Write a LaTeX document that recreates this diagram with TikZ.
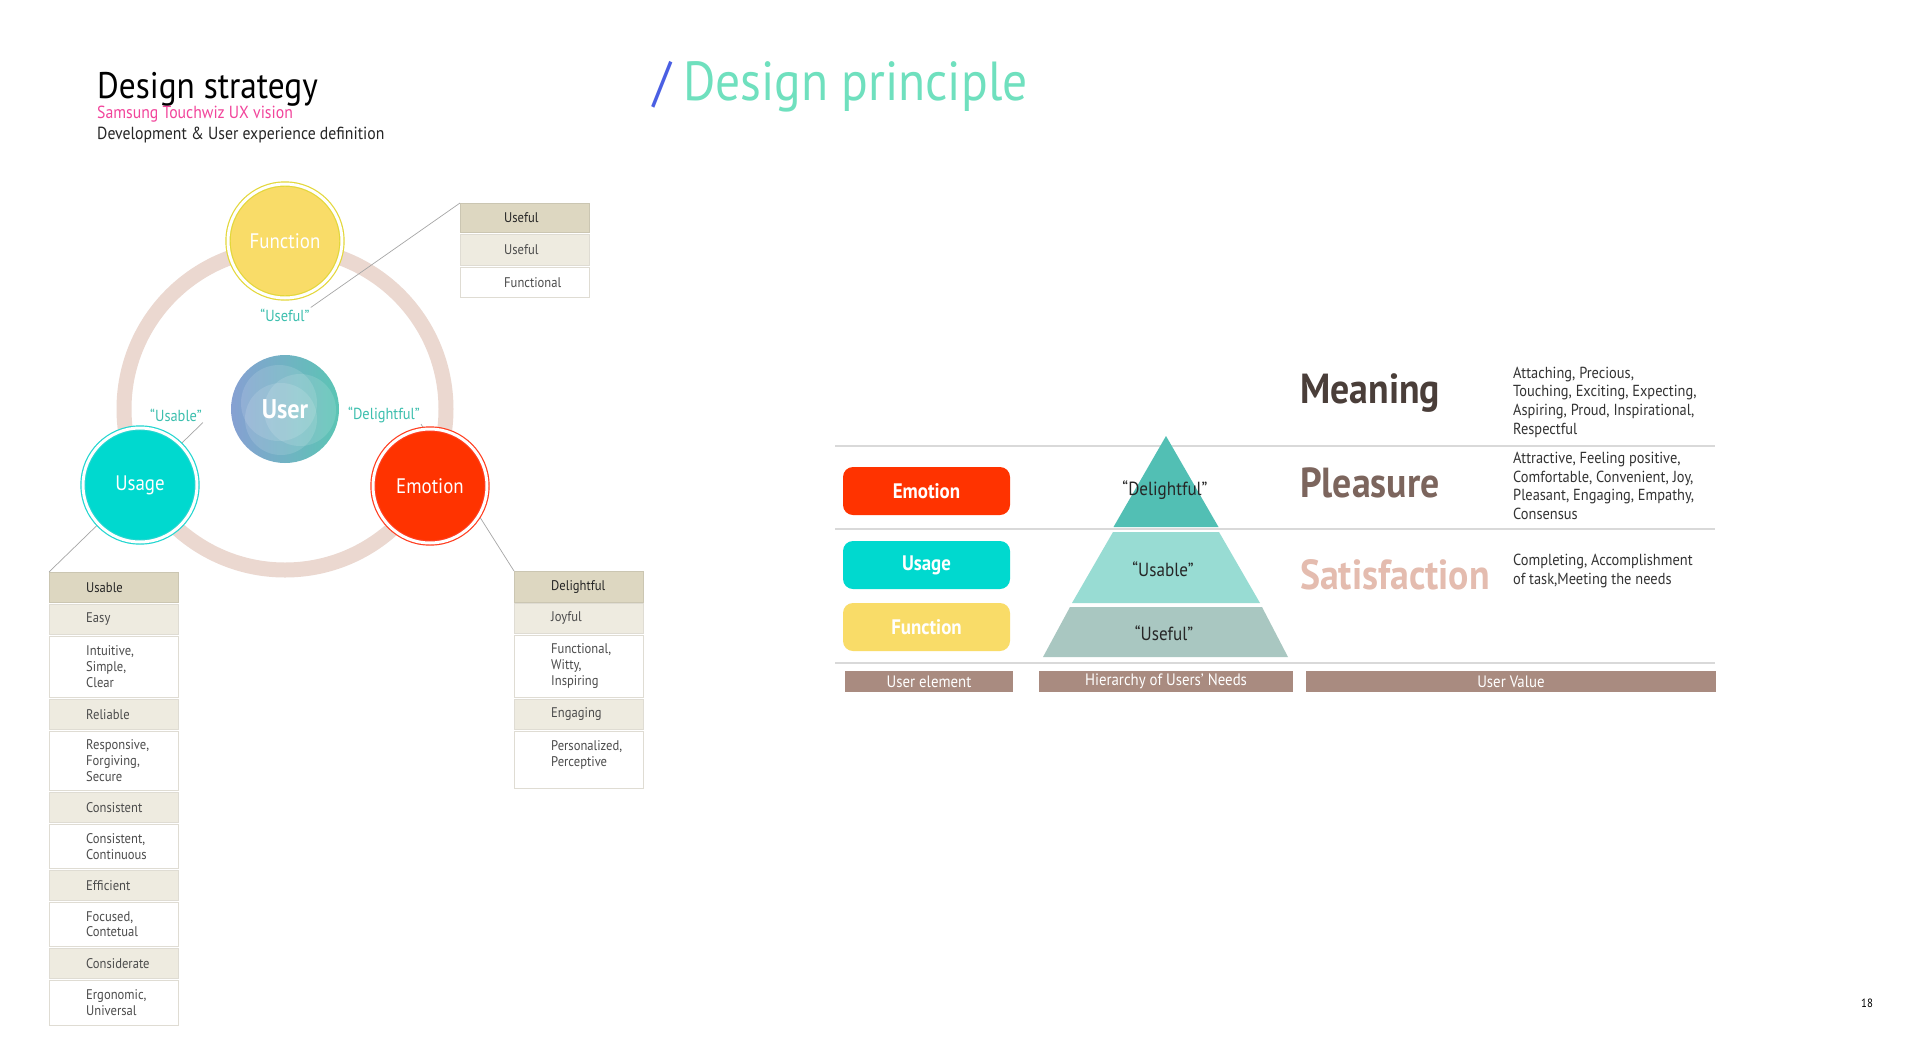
\documentclass[tikz,border=0pt]{standalone}
\usepackage{fontspec}
\setmainfont[FakeStretch=0.9]{PT Sans}
\usetikzlibrary{shadings}

\definecolor{ringpink}{HTML}{EBD8D0}
\definecolor{funcyellow}{HTML}{F9DC68}
\definecolor{funcring}{HTML}{E3D73A}
\definecolor{usageteal}{HTML}{00D9CF}
\definecolor{usagering}{HTML}{22D6D0}
\definecolor{emored}{HTML}{FF3300}
\definecolor{emoring}{HTML}{FF3D1F}
\definecolor{userblue}{HTML}{86A0D2}
\definecolor{userteal}{HTML}{5BC5B4}
\definecolor{quoteteal}{HTML}{3CBFAE}
\definecolor{hdrbeige}{HTML}{DDD7C1}
\definecolor{rowbeige}{HTML}{EEEBE0}
\definecolor{cellline}{HTML}{DFDCD3}
\definecolor{barbrown}{HTML}{A98B80}
\definecolor{pyrtop}{HTML}{52BFB4}
\definecolor{pyrmid}{HTML}{98DCD3}
\definecolor{pyrlow}{HTML}{A9C7C1}
\definecolor{meanbrown}{HTML}{4A3E39}
\definecolor{pleabrown}{HTML}{7C655D}
\definecolor{satipink}{HTML}{E4BCAF}
\definecolor{titlemint}{HTML}{6FE0BE}
\definecolor{slashblue}{HTML}{4A5FE3}
\definecolor{subpink}{HTML}{F2449B}

\newcommand{\pxfont}[2]{\fontsize{#1}{#2}\selectfont}
\newcommand{\cellfont}{\pxfont{14}{15.8}\hyphenpenalty=10000 }

\tikzset{>=latex}
\tikzset{
  bubble/.style={circle, minimum size=114pt, inner sep=0pt, line width=1.2pt, double=white, double distance=3pt, text=white, font=\pxfont{21}{25}},
  quote/.style={text=quoteteal, font=\pxfont{16}{19}, inner sep=1pt},
  cell/.style={anchor=north west, minimum width=129pt, inner sep=0pt, text width=55pt, align=left, text=black!70, font=\cellfont},
  hdrcell/.style={cell, fill=hdrbeige, draw=hdrbeige!92!black, text=black!85},
  subcell/.style={cell, fill=rowbeige, draw=cellline},
  desccell/.style={cell, fill=white, draw=cellline},
  link/.style={draw=black!35, line width=0.7pt},
  elembox/.style={rounded corners=10pt, minimum width=167pt, minimum height=48pt, text=white, font=\bfseries\pxfont{21}{25}},
  rule/.style={draw=black!15, line width=1.8pt},
  level/.style={text=black!85, font=\pxfont{19}{22}},
  bar/.style={fill=barbrown, text=white, minimum height=21pt, inner sep=0pt, font=\pxfont{16.5}{18}},
  value/.style={anchor=base west, inner sep=0pt, font=\bfseries\pxfont{42}{48}},
  desc/.style={anchor=west, align=left, inner sep=0pt, text=black!80, font=\pxfont{16}{18.7}},
}

\begin{document}
\begin{tikzpicture}[x=1pt,y=-1pt]
    \fill[white] (0,0) rectangle (1920,1042);
    \useasboundingbox (0,0) rectangle (1920,1042);

    % headings
    \node[anchor=base west, inner sep=0pt, font=\pxfont{37}{44}] (strategy) at (97,98) {Design strategy};
    \node[anchor=base west, inner sep=0pt, text=subpink, font=\pxfont{17.5}{20}] (vision) at (97,118) {Samsung Touchwiz UX vision};
    \node[anchor=base west, inner sep=0pt, text=black!85, font=\pxfont{17.5}{20}] (definition) at (97,139) {Development \& User experience definition};
    \node[anchor=base west, inner sep=0pt, text=slashblue, font=\pxfont{55}{64}] (slash) at (653,100) {/};
    \node[anchor=base west, inner sep=0pt, text=titlemint, font=\pxfont{55}{64}] (principle) at (683,100) {Design principle};

    % ring round the user
    \draw[ringpink, line width=15pt] (285,409) circle (161pt);

    \node[quote] (usefulQ) at (285,315) {“Useful”};
    \node[quote] (usableQ) at (176,415) {“Usable”};
    \node[quote] (delightQ) at (384,415) {“Delightful”};

    % useful table
    \node[hdrcell, minimum height=29pt, text width=41pt] (usefulTbl) at (460,203) {Useful};
    \node[subcell, minimum height=31pt, text width=41pt] (uf1) at (460,234) {Useful};
    \node[desccell, minimum height=30pt, text width=41pt] (uf2) at (460,267) {Functional};

    % usable table
    \node[hdrcell, minimum height=30pt] (usableTbl) at (49,572) {Usable};
    \node[subcell, minimum height=30pt] (ub1) at (49,604) {Easy};
    \node[desccell, minimum height=61pt] (ub2) at (49,636) {Intuitive,\\Simple,\\Clear};
    \node[subcell, minimum height=30pt] (ub3) at (49,699) {Reliable};
    \node[desccell, minimum height=59pt] (ub4) at (49,731) {Responsive,\\Forgiving,\\Secure};
    \node[subcell, minimum height=30pt] (ub5) at (49,792) {Consistent};
    \node[desccell, minimum height=44pt] (ub6) at (49,824) {Consistent,\\Continuous};
    \node[subcell, minimum height=30pt] (ub7) at (49,870) {Efficient};
    \node[desccell, minimum height=44pt] (ub8) at (49,902) {Focused,\\Contetual};
    \node[subcell, minimum height=30pt] (ub9) at (49,948) {Considerate};
    \node[desccell, minimum height=45pt] (ub10) at (49,980) {Ergonomic,\\Universal};

    % delightful table
    \node[hdrcell, minimum height=31pt] (delightTbl) at (514,571) {Delightful};
    \node[subcell, minimum height=30pt] (dl1) at (514,603) {Joyful};
    \node[desccell, minimum height=62pt] (dl2) at (514,635) {Functional,\\Witty,\\Inspiring};
    \node[subcell, minimum height=30pt] (dl3) at (514,699) {Engaging};
    \node[desccell, minimum height=57pt] (dl4) at (514,731) {Personalized,\\Perceptive\\[-4pt]\mbox{}};

    \draw[link] (usefulQ.north east) -- (usefulTbl.north west);
    \draw[link] (usableQ.south east) -- (usableTbl.north west);
    \draw[link] (delightQ.south east) -- (delightTbl.north west);

    \node[bubble, draw=funcring, fill=funcyellow] (function) at (285,241) {Function};
    \node[bubble, draw=usagering, fill=usageteal] (usage) at (140,485) {Usage};
    \node[bubble, draw=emoring, fill=emored] (emotion) at (430,486) {Emotion};
    \node[circle, minimum size=108pt, inner sep=0pt, left color=userblue, right color=userteal,
          text=white, font=\bfseries\pxfont{27}{32},
          path picture={
            \fill[white, opacity=0.13] (path picture bounding box.center) ++(-6pt,6pt) circle (38pt);
            \fill[white, opacity=0.13] (path picture bounding box.center) ++(15pt,-1pt) circle (36pt);
            \fill[white, opacity=0.13] (path picture bounding box.center) ++(-4pt,-10pt) circle (36pt);
          }] (user) at (285,409) {User};

    % principle table
    \draw[rule] (835,446) -- (1715,446);
    \draw[rule] (835,529) -- (1715,529);
    \draw[rule] (835,663) -- (1715,663);

    \node[elembox, fill=emored] (emoBox) at (926.5,491) {Emotion};
    \node[elembox, fill=usageteal] (usageBox) at (926.5,565) {Usage};
    \node[elembox, fill=funcyellow] (funcBox) at (926.5,627) {Function};

    \fill[pyrtop] (1166,436) -- (1218.5,527) -- (1113.5,527) -- cycle;
    \fill[pyrmid] (1113,532) -- (1219,532) -- (1260,603) -- (1072,603) -- cycle;
    \fill[pyrlow] (1070,607) -- (1262,607) -- (1288,657) -- (1043,657) -- cycle;
    \node[level] (delightLvl) at (1165,490) {“Delightful”};
    \node[level] (usableLvl) at (1163,569) {“Usable”};
    \node[level] (usefulLvl) at (1164,633) {“Useful”};

    \node[value, text=meanbrown] (meaning) at (1300,403) {Meaning};
    \node[value, text=pleabrown] (pleasure) at (1300,497) {Pleasure};
    \node[value, text=satipink] (satisfaction) at (1300,589) {Satisfaction};
    \node[desc] (meaningDesc) at (1513,402) {Attaching, Precious,\\Touching, Exciting, Expecting,\\Aspiring, Proud, Inspirational,\\Respectful};
    \node[desc] (pleasureDesc) at (1513,486) {Attractive, Feeling positive,\\Comfortable, Convenient, Joy,\\Pleasant, Engaging, Empathy,\\Consensus};
    \node[desc] (satisDesc) at (1513,571) {Completing, Accomplishment\\of task,Meeting the needs};

    \node[bar, minimum width=168pt] (elemBar) at (929,681.5) {User element};
    \node[bar, minimum width=254pt] (needsBar) at (1166,681.5) {Hierarchy of Users’ Needs};
    \node[bar, minimum width=410pt] (valueBar) at (1511,681.5) {User Value};

    \node[font=\pxfont{12}{14}] (pageNo) at (1867,1003) {18};
\end{tikzpicture}
\end{document}
